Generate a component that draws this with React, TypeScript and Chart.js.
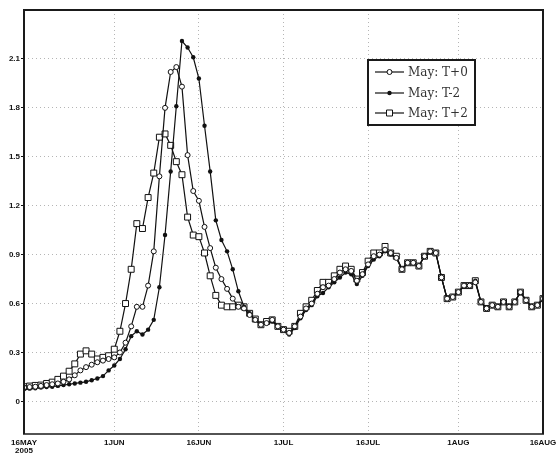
import React, { useEffect, useRef } from 'react';
import { Chart, registerables } from 'chart.js';

Chart.register(...registerables);

// days since 16 May 2005 (daily values)
const DAYS: number[] = Array.from({ length: 93 }, (_, i) => i);
const X_TICKS = [0, 16, 31, 46, 61, 77, 92];
const X_TICK_LABELS: (string | string[])[] = [['16MAY', '2005'], '1JUN', '16JUN', '1JUL', '16JUL', '1AUG', '16AUG'];
const Y_TICKS = [0, 0.3, 0.6, 0.9, 1.2, 1.5, 1.8, 2.1];
const SERIES_NAMES = ['May: T+0', 'May: T-2', 'May: T+2'];

const T_PLUS0 = [
  0.085, 0.088, 0.09, 0.095, 0.1, 0.105, 0.11, 0.12, 0.135, 0.16,
  0.19, 0.21, 0.225, 0.24, 0.25, 0.26, 0.27, 0.3, 0.36, 0.46,
  0.58, 0.58, 0.71, 0.92, 1.38, 1.8, 2.02, 2.05, 1.93, 1.51,
  1.29, 1.23, 1.07, 0.94, 0.82, 0.75, 0.69, 0.63, 0.58, 0.57,
  0.53, 0.5, 0.47, 0.48, 0.5, 0.46, 0.44, 0.42, 0.46, 0.52,
  0.57, 0.6, 0.66, 0.7, 0.71, 0.75, 0.79, 0.81, 0.8, 0.74,
  0.78, 0.84, 0.89, 0.9, 0.93, 0.91, 0.88, 0.81, 0.85, 0.85,
  0.83, 0.89, 0.92, 0.91, 0.76, 0.63, 0.64, 0.67, 0.71, 0.71,
  0.73, 0.61, 0.57, 0.59, 0.58, 0.61, 0.58, 0.61, 0.67, 0.62,
  0.58, 0.59, 0.63,
];

const T_MINUS2 = [
  0.075, 0.078, 0.08, 0.085, 0.088, 0.09, 0.095, 0.1, 0.105, 0.11,
  0.115, 0.12, 0.13, 0.14, 0.155, 0.19, 0.22, 0.26, 0.32, 0.4,
  0.43, 0.41, 0.44, 0.5, 0.7, 1.02, 1.41, 1.81, 2.21, 2.17,
  2.11, 1.98, 1.69, 1.41, 1.11, 0.99, 0.92, 0.81, 0.675, 0.58,
  0.54, 0.5, 0.47, 0.48, 0.49, 0.46, 0.44, 0.41, 0.45, 0.51,
  0.56, 0.59, 0.645, 0.665, 0.7, 0.73, 0.76, 0.79, 0.78, 0.72,
  0.77, 0.83, 0.87, 0.89, 0.92, 0.9, 0.88, 0.81, 0.85, 0.85,
  0.83, 0.89, 0.92, 0.91, 0.76, 0.63, 0.64, 0.67, 0.71, 0.71,
  0.74, 0.61, 0.57, 0.59, 0.58, 0.61, 0.58, 0.61, 0.67, 0.62,
  0.58, 0.59, 0.63,
];

const T_PLUS2 = [
  0.09, 0.094, 0.098, 0.1, 0.11, 0.118, 0.135, 0.155, 0.185, 0.23,
  0.29, 0.31, 0.29, 0.26, 0.27, 0.28, 0.32, 0.43, 0.6, 0.81,
  1.09, 1.06, 1.25, 1.4, 1.62, 1.64, 1.57, 1.47, 1.39, 1.13,
  1.02, 1.01, 0.91, 0.77, 0.65, 0.59, 0.58, 0.58, 0.59, 0.58,
  0.54, 0.505, 0.47, 0.49, 0.5, 0.46, 0.44, 0.43, 0.46, 0.54,
  0.58, 0.62, 0.68, 0.73, 0.73, 0.77, 0.81, 0.83, 0.81, 0.75,
  0.79, 0.86, 0.91, 0.91, 0.95, 0.91, 0.89, 0.81, 0.85, 0.85,
  0.83, 0.89, 0.92, 0.91, 0.76, 0.63, 0.64, 0.67, 0.71, 0.71,
  0.74, 0.61, 0.57, 0.59, 0.58, 0.61, 0.58, 0.61, 0.67, 0.62,
  0.58, 0.59, 0.63,
];

const INK = '#111';
const TICK_FONT = { family: '"Liberation Sans", Arial, sans-serif', size: 8, weight: 'bold' as const, lineHeight: 1.0 };

type MarkerKind = 'openCircle' | 'dot' | 'openSquare';
const MARKERS: MarkerKind[] = ['openCircle', 'dot', 'openSquare'];

function drawMarker(ctx: CanvasRenderingContext2D, kind: MarkerKind, x: number, y: number) {
  ctx.save();
  ctx.lineWidth = 1;
  ctx.strokeStyle = INK;
  ctx.beginPath();
  if (kind === 'openCircle') {
    ctx.arc(x, y, 2.5, 0, Math.PI * 2);
    ctx.fillStyle = '#fff';
    ctx.fill();
    ctx.stroke();
  } else if (kind === 'dot') {
    ctx.arc(x, y, 2.2, 0, Math.PI * 2);
    ctx.fillStyle = INK;
    ctx.fill();
  } else {
    ctx.rect(x - 3, y - 3, 6, 6);
    ctx.fillStyle = '#fff';
    ctx.fill();
    ctx.stroke();
  }
  ctx.restore();
}

const framePlugin = {
  id: 'frameAndLegend',
  afterDraw(chart: any) {
    const { ctx, chartArea } = chart;
    const { left, top, right, bottom } = chartArea;
    ctx.save();
    ctx.strokeStyle = '#1a1a1a';
    ctx.lineWidth = 2;
    ctx.beginPath();
    ctx.moveTo(left, bottom);
    ctx.lineTo(left, top);
    ctx.lineTo(right, top);
    ctx.lineTo(right, bottom);
    ctx.stroke();
    ctx.lineWidth = 1.5;
    ctx.beginPath();
    ctx.moveTo(left - 1, bottom);
    ctx.lineTo(right + 1, bottom);
    ctx.stroke();

    // legend box
    const bx = 368, by = 60, bw = 107, bh = 65;
    ctx.fillStyle = '#fff';
    ctx.fillRect(bx, by, bw, bh);
    ctx.lineWidth = 2;
    ctx.strokeStyle = '#1a1a1a';
    ctx.strokeRect(bx, by, bw, bh);
    const rows = [72, 93, 113];
    ctx.font = '12px "DejaVu Serif", serif';
    ctx.textBaseline = 'middle';
    ctx.textAlign = 'left';
    SERIES_NAMES.forEach((name, i) => {
      const y = rows[i];
      ctx.strokeStyle = INK;
      ctx.lineWidth = 1.2;
      ctx.beginPath();
      ctx.moveTo(375, y);
      ctx.lineTo(404, y);
      ctx.stroke();
      drawMarker(ctx, MARKERS[i], 389.5, y);
      ctx.fillStyle = '#333';
      ctx.fillText(name, 408, y + 1);
    });
    ctx.restore();
  },
};

export default function App() {
  const canvasRef = useRef<HTMLCanvasElement | null>(null);

  useEffect(() => {
    if (!canvasRef.current) return;
    const toPoints = (arr: number[]) => DAYS.map((d, i) => ({ x: d, y: arr[i] }));
    const chart = new Chart(canvasRef.current, {
      type: 'line',
      data: {
        datasets: [
          {
            label: SERIES_NAMES[0],
            data: toPoints(T_PLUS0),
            borderColor: INK,
            borderWidth: 1.2,
            pointStyle: 'circle',
            pointRadius: 2.5,
            pointBackgroundColor: '#fff',
            pointBorderColor: INK,
            pointBorderWidth: 1,
          },
          {
            label: SERIES_NAMES[1],
            data: toPoints(T_MINUS2),
            borderColor: INK,
            borderWidth: 1.2,
            pointStyle: 'circle',
            pointRadius: 2.2,
            pointBackgroundColor: INK,
            pointBorderColor: INK,
            pointBorderWidth: 0,
          },
          {
            label: SERIES_NAMES[2],
            data: toPoints(T_PLUS2),
            borderColor: INK,
            borderWidth: 1.2,
            pointStyle: 'rect',
            pointRadius: 4.2,
            pointBackgroundColor: '#fff',
            pointBorderColor: INK,
            pointBorderWidth: 1,
          },
        ],
      },
      options: {
        responsive: false,
        animation: false,
        events: [],
        layout: { padding: { left: 0, top: 10, right: 15, bottom: 0 } },
        plugins: {
          legend: { display: false },
          tooltip: { enabled: false },
          title: { display: false },
        },
        scales: {
          x: {
            type: 'linear',
            min: 0,
            max: 92,
            afterBuildTicks: (s: any) => {
              s.ticks = X_TICKS.map((v) => ({ value: v }));
            },
            afterFit: (s: any) => {
              s.height = 21;
              s.paddingLeft = 0;
              s.paddingRight = 0;
            },
            ticks: {
              autoSkip: false,
              maxRotation: 0,
              padding: 5,
              color: INK,
              font: TICK_FONT,
              callback: (v: any) => {
                const i = X_TICKS.indexOf(Number(v));
                return i >= 0 ? X_TICK_LABELS[i] : '';
              },
            },
            grid: { color: '#b5b5b5', lineWidth: 1, drawTicks: false },
            border: { display: false, dash: [1, 3] },
          },
          y: {
            type: 'linear',
            min: -0.2,
            max: 2.4,
            afterBuildTicks: (s: any) => {
              s.ticks = Y_TICKS.map((v) => ({ value: v }));
            },
            afterFit: (s: any) => {
              s.width = 24;
              s.paddingTop = 0;
              s.paddingBottom = 0;
            },
            ticks: {
              padding: 1,
              color: INK,
              font: TICK_FONT,
              callback: (v: any) => (Number(v) === 0 ? '0' : Number(v).toFixed(1)),
            },
            grid: { color: '#b5b5b5', lineWidth: 1, drawTicks: true, tickLength: 3, tickColor: INK, tickWidth: 1 },
            border: { display: false, dash: [1, 3] },
          },
        },
      },
      plugins: [framePlugin],
    } as any);
    return () => chart.destroy();
  }, []);

  return (
    <div style={{ position: 'fixed', left: 0, top: 0, width: 558, height: 455, background: '#fff' }}>
      <canvas ref={canvasRef} width={558} height={455} style={{ display: 'block' }} />
    </div>
  );
}
